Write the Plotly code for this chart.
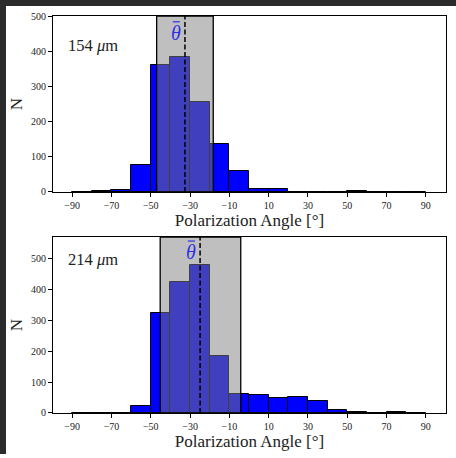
import plotly.graph_objects as go

# Histogram bins (degrees): left edges from -90 to 80, width 10
bin_edges = list(range(-90, 90, 10))
bin_width = 10

# Counts per bin for the two wavelengths
counts_154 = [0, 3, 7, 77, 360, 383, 256, 137, 60, 9, 8, 0, 1, 1, 3, 0, 0, 1]
counts_214 = [0, 0, 0, 24, 324, 423, 480, 185, 63, 59, 50, 51, 39, 10, 3, 0, 2, 0]

# Mean angle and shaded interval for each panel
theta_mean = [-32.6, -24.9]
span_lo = [-47.0, -45.2]
span_hi = [-18.2, -4.2]
panel_labels = ["154 <i>μ</i>m", "214 <i>μ</i>m"]

tick_vals = [-90, -70, -50, -30, -10, 10, 30, 50, 70, 90]
tick_text = [("−" + str(-v)) if v < 0 else str(v) for v in tick_vals]
ytick_vals = [0, 100, 200, 300, 400, 500]

FONT = "Liberation Serif, DejaVu Serif, serif"
W, H = 456, 458
ML, MR, MT, MB = 53, 10, 16, 45
THETA_BLUE = "#2f2fe6"

fig = go.Figure()
centers = [e + bin_width / 2 for e in bin_edges]
for i, counts in enumerate([counts_154, counts_214]):
    fig.add_trace(go.Bar(
        x=centers, y=counts, width=bin_width,
        marker=dict(color="#0000ff", line=dict(color="black", width=1)),
        xaxis="x" if i == 0 else "x2",
        yaxis="y" if i == 0 else "y2",
        showlegend=False,
    ))

axis_common = dict(
    showline=True, mirror=True, linecolor="black", linewidth=1,
    ticks="outside", ticklen=4, tickcolor="black", tickwidth=1,
    showgrid=False, zeroline=False,
    tickfont=dict(family=FONT, size=10, color="#222"),
)
xrange = [-99.75, 100.25]
title_font = dict(family=FONT, size=17, color="#222")

fig.update_layout(
    width=W, height=H,
    margin=dict(l=ML, r=MR, t=MT, b=MB),
    paper_bgcolor="white", plot_bgcolor="white",
    bargap=0,
    xaxis=dict(axis_common, range=xrange, tickvals=tick_vals, ticktext=tick_text,
               anchor="y", title=dict(text="Polarization Angle [°]", font=title_font, standoff=4)),
    yaxis=dict(axis_common, range=[0, 500], tickvals=ytick_vals, domain=[0.5567, 1.0],
               anchor="x", title=dict(text="N", font=title_font, standoff=4)),
    xaxis2=dict(axis_common, range=xrange, tickvals=tick_vals, ticktext=tick_text,
                anchor="y2", title=dict(text="Polarization Angle [°]", font=title_font, standoff=4)),
    yaxis2=dict(axis_common, range=[0, 570], tickvals=ytick_vals, domain=[0.0, 0.4433],
                anchor="x2", title=dict(text="N", font=title_font, standoff=4)),
)

shapes = []
annotations = []
label_y = [0.83, 0.87]
theta_y = [0.905, 0.915]
for i in range(2):
    xr = "x" if i == 0 else "x2"
    yd = ("y" if i == 0 else "y2") + " domain"
    # shaded interval around the mean
    shapes.append(dict(type="rect", xref=xr, yref=yd, x0=span_lo[i], x1=span_hi[i], y0=0, y1=1,
                       fillcolor="rgba(128,128,128,0.5)", line=dict(color="black", width=1.3),
                       layer="above"))
    # mean angle
    shapes.append(dict(type="line", xref=xr, yref=yd, x0=theta_mean[i], x1=theta_mean[i], y0=0, y1=1,
                       line=dict(color="black", width=1.5, dash="5px,2.5px"), layer="above"))
    # theta-bar label: italic theta with a macron drawn above it
    tx = theta_mean[i] - 4.8
    annotations.append(dict(xref=xr, yref=yd, x=tx, y=theta_y[i], text="<i>θ</i>",
                            showarrow=False, font=dict(family=FONT, size=20, color=THETA_BLUE),
                            xanchor="center", yanchor="middle"))
    shapes.append(dict(type="line", xref=xr, yref=yd, x0=tx - 1.4, x1=tx + 2.2,
                       y0=theta_y[i] + 0.062, y1=theta_y[i] + 0.062,
                       line=dict(color=THETA_BLUE, width=1.2), layer="above"))
    annotations.append(dict(xref=xr + " domain", yref=yd, x=0.033, y=label_y[i],
                            text=panel_labels[i], showarrow=False,
                            font=dict(family=FONT, size=16.5, color="#222"),
                            xanchor="left", yanchor="middle"))

# dark frame along the top and left edges of the canvas
pw, ph = W - ML - MR, H - MT - MB
def px(xp):
    return (xp - ML) / pw
def py(yp):
    return 1 - (yp - MT) / ph
shapes.append(dict(type="rect", xref="paper", yref="paper", x0=px(0), x1=px(W), y0=py(6), y1=py(0),
                   fillcolor="#2b2b2b", line=dict(width=0), layer="above"))
shapes.append(dict(type="rect", xref="paper", yref="paper", x0=px(0), x1=px(6), y0=py(454), y1=py(0),
                   fillcolor="#2b2b2b", line=dict(width=0), layer="above"))

fig.update_layout(shapes=shapes, annotations=annotations)
fig.write_html("out.html")
